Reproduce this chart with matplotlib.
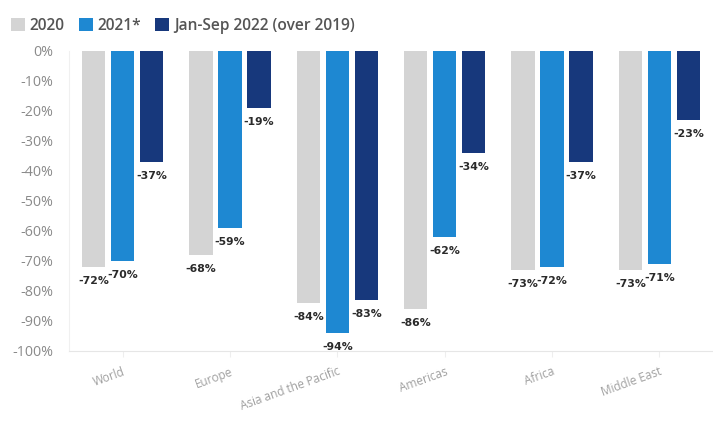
import matplotlib
matplotlib.use("Agg")
import matplotlib.pyplot as plt
import numpy as np

plt.rcParams['font.family'] = ['Open Sans', 'DejaVu Sans']

regions = ["World", "Europe", "Asia and the Pacific", "Americas", "Africa", "Middle East"]
series_names = ["2020", "2021*", "Jan-Sep 2022 (over 2019)"]
vals_2020 = [-72, -68, -84, -86, -73, -73]
vals_2021 = [-70, -59, -94, -62, -72, -71]
vals_2022 = [-37, -19, -83, -34, -37, -23]
colors = ["#d4d4d4", "#1e88d2", "#17387c"]

fig = plt.figure(figsize=(7.13, 4.24), dpi=100)
ax = fig.add_axes([69/713, 1 - 351/424, 644/713, 300/424])

x = np.arange(len(regions))
width = 0.22
offset = 0.27
for i, (vals, col, name) in enumerate(zip([vals_2020, vals_2021, vals_2022], colors, series_names)):
    pos = x + (i - 1) * offset
    ax.bar(pos, vals, width=width, color=col, label=name, zorder=2)
    for px, v in zip(pos, vals):
        ax.annotate(f"{v}%", (px, v), xytext=(0, -6.5), textcoords="offset points",
                    ha="center", va="top", fontsize=7.8, fontweight="bold", color="#2a2a2a",
                    family="DejaVu Sans")

ax.set_xlim(-0.5, len(regions) - 0.5)
ax.set_ylim(-100, 0)
ax.set_yticks(np.arange(-100, 1, 10))
ax.set_yticklabels([f"{t}%" for t in range(-100, 1, 10)], fontsize=10.3, color="#8a8a8a")
ax.set_xticks(x)
ax.set_xticklabels(regions, rotation=20, ha="right", rotation_mode="anchor",
                   fontsize=8.5, color="#a0a0a0")
ax.tick_params(axis="y", length=0, pad=11)
ax.tick_params(axis="x", length=4, color="#eeeeee", pad=6)
for side in ["top", "right"]:
    ax.spines[side].set_visible(False)
ax.spines["left"].set_color("#f0f0f0")
ax.spines["bottom"].set_color("#e6e6e6")

leg = fig.legend(loc="upper left", bbox_to_anchor=(-0.004, 0.99), ncol=3, frameon=False,
                 prop={"size": 11.2, "weight": "semibold"}, handlelength=0.9, handleheight=0.9,
                 handletextpad=0.3, columnspacing=0.9)
for t in leg.get_texts():
    t.set_color("#555555")

fig.savefig("out.png", dpi=100)
